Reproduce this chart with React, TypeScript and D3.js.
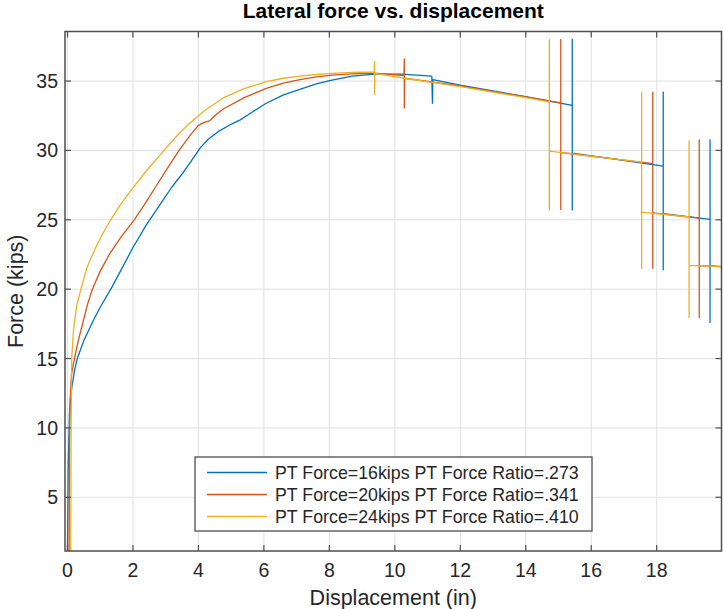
import React from "react";
import * as d3 from "d3";

// ---- data ----
const xTicks = [0, 2, 4, 6, 8, 10, 12, 14, 16, 18];
const yTicks = [5, 10, 15, 20, 25, 30, 35];

const pt16X = [0.0, 0.02, 0.06, 0.1, 0.15, 0.22, 0.3, 0.5, 0.8, 1.0, 1.37, 2.0, 2.4, 2.8, 3.2, 3.5, 3.8, 4.06, 4.3, 4.6, 4.97, 5.1, 5.28, 5.6, 6.07, 6.6, 7.1, 7.6, 8.08, 8.7, 9.38, 10.2, 11.13, 11.15, 11.16, 12.0, 14.0, 15.42, 15.42, 15.42, 15.42, 16.5, 18.2, 18.2, 18.2, 18.2, 19.63, 19.63, 19.63, 19.63, 19.98];
const pt16Y = [1.1, 7.0, 11.0, 12.3, 13.2, 14.2, 15.0, 16.3, 17.8, 18.7, 20.2, 23.0, 24.6, 26.0, 27.4, 28.3, 29.3, 30.2, 30.8, 31.35, 31.85, 32.0, 32.2, 32.7, 33.4, 34.0, 34.4, 34.8, 35.07, 35.35, 35.5, 35.5, 35.35, 33.4, 35.1, 34.7, 33.87, 33.25, 38.0, 25.7, 29.8, 29.44, 28.87, 34.2, 21.4, 25.45, 25.03, 30.75, 17.6, 21.67, 21.62];

const pt20X = [0.05, 0.06, 0.08, 0.12, 0.18, 0.24, 0.34, 0.45, 0.6, 0.76, 1.0, 1.3, 1.65, 2.04, 2.35, 2.7, 3.05, 3.41, 3.75, 4.0, 4.16, 4.35, 4.55, 4.77, 5.4, 6.07, 6.6, 7.1, 7.6, 8.08, 8.7, 9.38, 10.28, 10.29, 10.29, 10.3, 12.0, 14.0, 15.07, 15.07, 15.07, 15.07, 16.5, 17.88, 17.88, 17.88, 17.88, 19.3, 19.3, 19.3, 19.3, 19.98];
const pt20Y = [1.1, 9.0, 12.0, 13.8, 14.6, 15.3, 16.4, 17.4, 18.8, 20.0, 21.3, 22.6, 23.8, 25.0, 26.1, 27.4, 28.7, 30.0, 31.1, 31.8, 32.0, 32.15, 32.6, 33.0, 33.8, 34.47, 34.85, 35.1, 35.3, 35.43, 35.52, 35.57, 35.4, 36.6, 33.05, 35.2, 34.65, 33.85, 33.42, 38.0, 25.75, 29.85, 29.45, 29.05, 34.2, 21.5, 25.5, 25.12, 30.75, 17.95, 21.7, 21.62];

const pt24X = [0.1, 0.11, 0.13, 0.18, 0.28, 0.41, 0.6, 0.9, 1.1, 1.32, 1.65, 2.0, 2.4, 2.95, 3.4, 3.75, 4.2, 4.77, 5.4, 6.07, 6.6, 7.1, 7.6, 8.08, 8.7, 9.37, 9.38, 9.38, 9.39, 10.3, 12.0, 14.0, 14.72, 14.72, 14.72, 14.72, 16.5, 17.54, 17.54, 17.54, 17.54, 18.99, 18.99, 18.99, 18.99, 19.98];
const pt24Y = [1.1, 10.0, 15.0, 17.0, 18.8, 20.0, 21.6, 23.2, 24.1, 25.0, 26.2, 27.3, 28.5, 30.0, 31.2, 32.0, 32.9, 33.8, 34.45, 34.95, 35.2, 35.35, 35.47, 35.55, 35.62, 35.65, 36.4, 34.04, 35.55, 35.2, 34.6, 33.8, 33.5, 38.0, 25.7, 29.95, 29.45, 29.15, 34.2, 21.5, 25.55, 25.2, 30.7, 17.95, 21.72, 21.62];

const seriesNames = [
  "PT Force=16kips PT Force Ratio=.273",
  "PT Force=20kips PT Force Ratio=.341",
  "PT Force=24kips PT Force Ratio=.410",
];
const seriesColors = ["#0072BD", "#D95319", "#EDB120"];

const titleText = "Lateral force vs. displacement";
const xLabelText = "Displacement (in)";
const yLabelText = "Force (kips)";

const FONT = '"Liberation Sans", Arial, Helvetica, sans-serif';

export default function App() {
  const W = 723, H = 609;
  const left = 65, right = 721.5, top = 31.5, bottom = 551;
  const x = d3.scaleLinear().domain([-0.076, 19.98]).range([left, right]);
  const y = d3.scaleLinear().domain([1.13, 38.57]).range([bottom, top]);

  const series = [
    { xs: pt16X, ys: pt16Y },
    { xs: pt20X, ys: pt20Y },
    { xs: pt24X, ys: pt24Y },
  ];
  const line = d3
    .line<[number, number]>()
    .x((d) => x(d[0]))
    .y((d) => y(d[1]));

  const tickLen = 6;
  const axisColor = "#4d4d4d";
  const textColor = "#262626";

  const legX = 195, legY = 457, legW = 397, legH = 74;
  const rowY = [472.5, 494.5, 516.5];

  return (
    <svg width={W} height={H} style={{ position: "absolute", left: 0, top: 0, background: "#fff" }} fontFamily={FONT}>
      <defs>
        <clipPath id="plotclip">
          <rect x={left} y={top} width={right - left} height={bottom - top} />
        </clipPath>
      </defs>
      <rect x={0} y={0} width={W} height={H} fill="#fff" />
      {/* grid */}
      {xTicks.map((t) => (
        <line key={"gx" + t} x1={x(t)} x2={x(t)} y1={top} y2={bottom} stroke="#e0e0e0" strokeWidth={1} />
      ))}
      {yTicks.map((t) => (
        <line key={"gy" + t} x1={left} x2={right} y1={y(t)} y2={y(t)} stroke="#e0e0e0" strokeWidth={1} />
      ))}
      {/* series */}
      <g clipPath="url(#plotclip)">
        {series.map((s, i) => (
          <path
            key={i}
            d={line(s.xs.map((v, j) => [v, s.ys[j]] as [number, number])) || ""}
            fill="none"
            stroke={seriesColors[i]}
            strokeWidth={1.3}
            strokeLinejoin="round"
          />
        ))}
      </g>
      {/* box */}
      <rect x={left} y={top} width={right - left} height={bottom - top} fill="none" stroke={axisColor} strokeWidth={1.5} />
      {/* ticks */}
      {xTicks.map((t) => (
        <g key={"tx" + t}>
          <line x1={x(t)} x2={x(t)} y1={bottom} y2={bottom - tickLen} stroke={axisColor} strokeWidth={1.2} />
          <line x1={x(t)} x2={x(t)} y1={top} y2={top + tickLen} stroke={axisColor} strokeWidth={1.2} />
          <text x={x(t)} y={577} textAnchor="middle" fontSize={19.5} fill={textColor}>
            {t}
          </text>
        </g>
      ))}
      {yTicks.map((t) => (
        <g key={"ty" + t}>
          <line x1={left} x2={left + tickLen} y1={y(t)} y2={y(t)} stroke={axisColor} strokeWidth={1.2} />
          <line x1={right} x2={right - tickLen} y1={y(t)} y2={y(t)} stroke={axisColor} strokeWidth={1.2} />
          <text x={58} y={y(t) + 7} textAnchor="end" fontSize={19.5} fill={textColor}>
            {t}
          </text>
        </g>
      ))}
      {/* title & labels */}
      <text x={(left + right) / 2} y={17.5} textAnchor="middle" fontSize={21} fontWeight="bold" fill="#000">
        {titleText}
      </text>
      <text x={(left + right) / 2} y={605} textAnchor="middle" fontSize={21.5} fill={textColor}>
        {xLabelText}
      </text>
      <text
        transform={`translate(23,${(top + bottom) / 2}) rotate(-90)`}
        textAnchor="middle"
        fontSize={21.5}
        fill={textColor}
      >
        {yLabelText}
      </text>
      {/* legend */}
      <rect x={legX} y={legY} width={legW} height={legH} fill="#fff" stroke={axisColor} strokeWidth={1.3} />
      {seriesNames.map((n, i) => (
        <g key={"leg" + i}>
          <line x1={207} x2={267} y1={rowY[i]} y2={rowY[i]} stroke={seriesColors[i]} strokeWidth={1.5} />
          <text x={275} y={rowY[i] + 6.3} fontSize={17.8} fill={textColor}>
            {n}
          </text>
        </g>
      ))}
    </svg>
  );
}
